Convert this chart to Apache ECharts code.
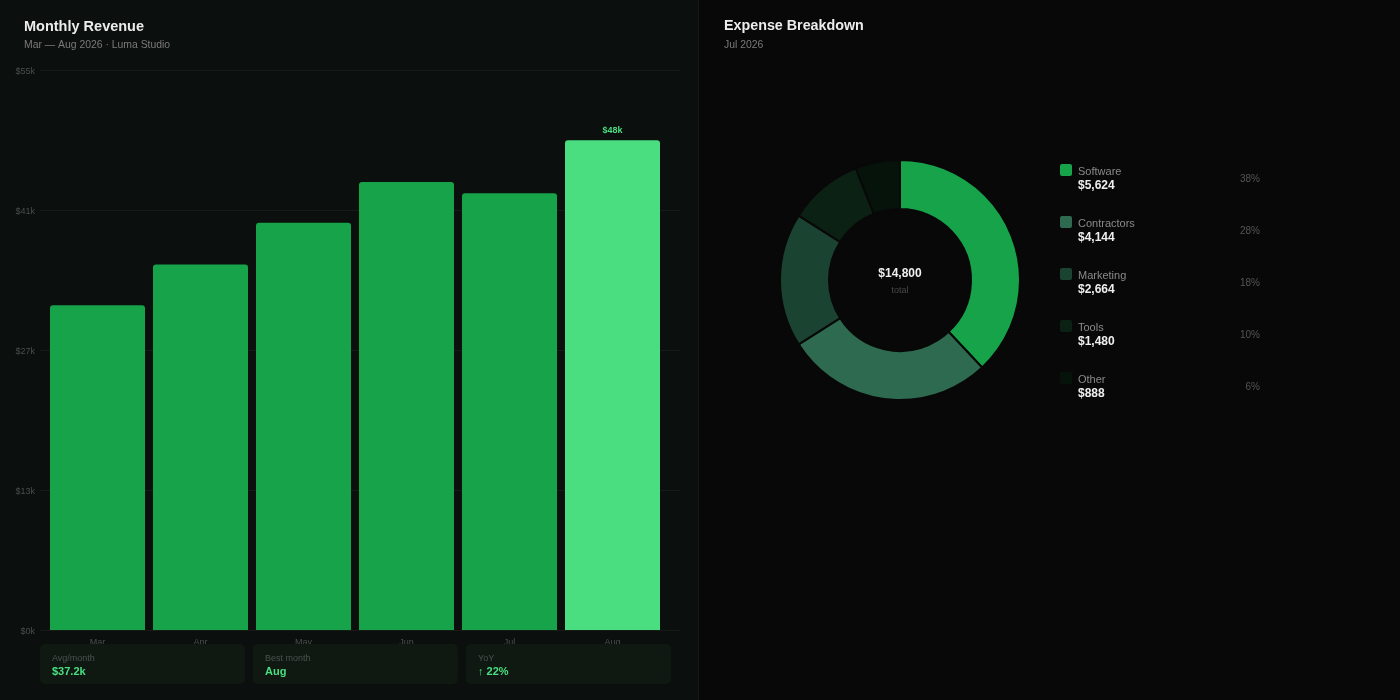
<!DOCTYPE html>
<html>
<head>
<meta charset="utf-8">
<script src="https://cdn.jsdelivr.net/npm/echarts@6/dist/echarts.min.js"></script>
<style>
  html, body { margin: 0; padding: 0; background: #080808; }
  #main { width: 1400px; height: 700px; }
</style>
</head>
<body>
<div id="main"></div>
<script>
// revenue (thousands of dollars)
var months = ["Mar", "Apr", "May", "Jun", "Jul", "Aug"];
var revenue = [31.9, 35.9, 40.0, 44.0, 42.9, 48.1];
var yTicks = [0, 13.75, 27.5, 41.25, 55];

// expenses, Jul 2026
var expenseNames = ["Software", "Contractors", "Marketing", "Tools", "Other"];
var expenseValues = [5624, 4144, 2664, 1480, 888];
var expenseColors = ["#17a34a", "#2d6a4f", "#1b4332", "#0b2114", "#06130b"];

var statLabels = ["Avg/month", "Best month", "YoY"];
var statValues = ["$37.2k", "Aug", "\u2191 22%"];

var total = expenseValues.reduce(function (a, b) { return a + b; }, 0);
var FONT = "'Liberation Sans', Arial, sans-serif";

var myChart = echarts.init(document.getElementById("main"));

var graphics = [
  { type: "rect", z: -10, shape: { x: 0, y: 0, width: 698, height: 700 }, style: { fill: "#0b0f0d" } },
  { type: "rect", z: -10, shape: { x: 698, y: 0, width: 1, height: 700 }, style: { fill: "#141816" } },
  { type: "text", x: 24, y: 26.5, style: { text: "Monthly Revenue", fill: "#ececec", verticalAlign: "middle", font: "bold 14.5px " + FONT } },
  { type: "text", x: 24, y: 45, style: { text: "Mar \u2014 Aug 2026 \u00b7 Luma Studio", fill: "#7a7a7a", verticalAlign: "middle", font: "10.4px " + FONT } },
  { type: "text", x: 724, y: 26.5, style: { text: "Expense Breakdown", fill: "#ececec", verticalAlign: "middle", font: "bold 14.3px " + FONT } },
  { type: "text", x: 724, y: 45, style: { text: "Jul 2026", fill: "#7a7a7a", verticalAlign: "middle", font: "10.4px " + FONT } },
  // donut centre
  { type: "text", x: 900, y: 274, style: { text: "$" + total.toLocaleString("en-US"), fill: "#eeeeee", align: "center", verticalAlign: "middle", font: "bold 12px " + FONT } },
  { type: "text", x: 900, y: 291, style: { text: "total", fill: "#4a4a4a", align: "center", verticalAlign: "middle", font: "9px " + FONT } }
];

// stat cards under the bars
statLabels.forEach(function (lab, i) {
  var x = 40 + i * 213;
  graphics.push({ type: "rect", z: 100, shape: { x: x, y: 644, width: 205, height: 40, r: 5 }, style: { fill: "#0f1912" } });
  graphics.push({ type: "text", z: 101, x: x + 12, y: 654, style: { text: lab, fill: "#4a524d", font: "9px " + FONT } });
  graphics.push({ type: "text", z: 101, x: x + 12, y: 666, style: { text: statValues[i], fill: "#4ade80", font: "bold 11px " + FONT } });
});

// legend rows
expenseNames.forEach(function (name, i) {
  var y = 164 + i * 52;
  var pct = Math.round(expenseValues[i] / total * 100) + "%";
  graphics.push({ type: "rect", shape: { x: 1060, y: y, width: 12, height: 12, r: 2 }, style: { fill: expenseColors[i] } });
  graphics.push({ type: "text", x: 1078, y: y + 8, style: { text: name, fill: "#8a8a8a", verticalAlign: "middle", font: "11px " + FONT } });
  graphics.push({ type: "text", x: 1078, y: y + 22, style: { text: "$" + expenseValues[i].toLocaleString("en-US"), fill: "#eeeeee", verticalAlign: "middle", font: "bold 12px " + FONT } });
  graphics.push({ type: "text", x: 1260, y: y + 15, style: { text: pct, fill: "#555555", align: "right", verticalAlign: "middle", font: "10px " + FONT } });
});

var option = {
  backgroundColor: "#080808",
  animation: false,
  textStyle: { fontFamily: FONT },
  graphic: graphics,
  grid: [
    { left: 40, right: 720, top: 70, bottom: 70 },
    { left: 46, right: 736, top: 70, bottom: 70 }
  ],
  xAxis: [
    { gridIndex: 0, type: "category", data: months, show: false },
    {
      gridIndex: 1,
      type: "category",
      data: months,
      axisLine: { show: false },
      axisTick: { show: false },
      axisLabel: { color: "#4a4f4c", fontSize: 9, margin: 8 }
    }
  ],
  yAxis: [
    {
      gridIndex: 0,
      type: "value",
      min: 0,
      max: 55,
      interval: 13.75,
      axisLine: { show: false },
      axisTick: { show: false },
      splitLine: { lineStyle: { color: "#161b18", width: 1 } },
      axisLabel: {
        color: "#4a4f4c",
        fontSize: 9,
        margin: 5,
        formatter: function (v) { return "{v|$" + Math.floor(v) + "k}"; },
        rich: { v: { color: "#4a4f4c", fontSize: 9, padding: [4, 0, 0, 0] } }
      }
    },
    { gridIndex: 1, type: "value", min: 0, max: 55, show: false }
  ],
  series: [
    {
      type: "bar",
      xAxisIndex: 1,
      yAxisIndex: 1,
      barWidth: 95,
      data: revenue.map(function (v, i) {
        var last = i === revenue.length - 1;
        return {
          value: v,
          itemStyle: { color: last ? "#4ade80" : "#17a34a", borderRadius: [3, 3, 0, 0] },
          label: {
            show: last,
            position: "top",
            distance: 5,
            color: "#4ade80",
            fontSize: 9,
            fontWeight: "bold",
            formatter: function (p) { return "$" + Math.round(p.value) + "k"; }
          }
        };
      })
    },
    {
      type: "pie",
      center: [900, 280],
      radius: [71, 120],
      startAngle: 90,
      clockwise: true,
      label: { show: false },
      labelLine: { show: false },
      itemStyle: { borderColor: "#080808", borderWidth: 2 },
      data: expenseNames.map(function (n, i) {
        return { name: n, value: expenseValues[i], itemStyle: { color: expenseColors[i] } };
      })
    }
  ]
};

option && myChart.setOption(option);
</script>
</body>
</html>
